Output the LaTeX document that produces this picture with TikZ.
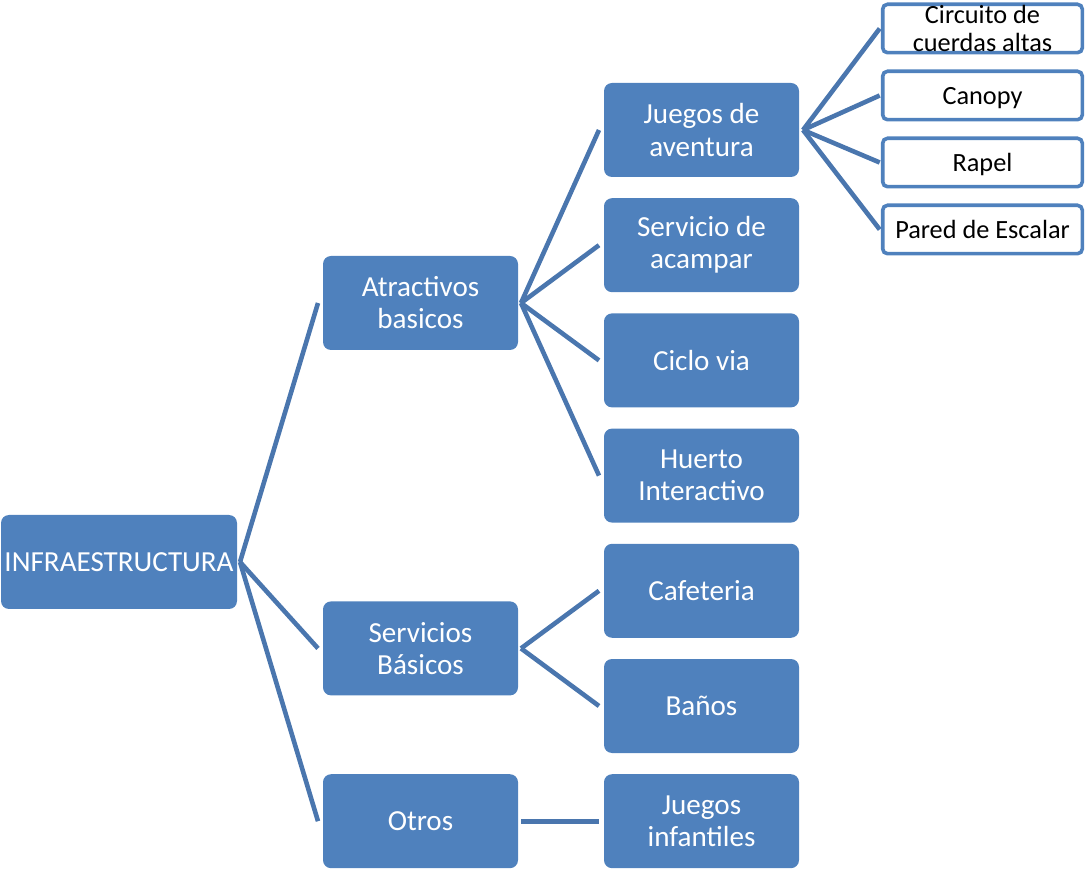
\documentclass[tikz,border=0pt]{standalone}
\usepackage{fontspec}
\setmainfont{Carlito}
\usetikzlibrary{positioning,calc}
\definecolor{boxblue}{HTML}{4F81BD}
\definecolor{linkblue}{HTML}{4A76AE}

\begin{document}
\begin{tikzpicture}[
  node distance=0.53cm,
  every node/.style={font=\fontsize{20.7}{22.8}\selectfont},
  topic/.style={rectangle, fill=boxblue, text=white, rounded corners=0.2cm,
    minimum width=4.875cm, minimum height=2.35cm, align=center, inner sep=0pt,
    outer sep=0pt},
  leaf/.style={rectangle, draw=boxblue, line width=0.09cm, fill=white,
    rounded corners=0.12cm, minimum width=4.99cm, minimum height=1.21cm,
    align=center, inner sep=0pt, font=\fontsize{18.7}{19.8}\selectfont},
  oneline/.style={text height=0.55cm, text depth=0.12cm},
  link/.style={draw=linkblue, line width=0.115cm}
]
  \useasboundingbox (0,0) rectangle (27.15,-21.775);

  % second level
  \node[topic] (aventura) at (17.5375,-3.25) {Juegos de\\aventura};
  \node[topic, below=of aventura] (acampar) {Servicio de\\acampar};
  \node[topic, below=of acampar] (ciclo) {Ciclo via};
  \node[topic, below=of ciclo] (huerto) {Huerto\\Interactivo};
  \node[topic, below=of huerto] (cafe) {Cafeteria};
  \node[topic, below=of cafe] (banos) {Baños};
  \node[topic, below=of banos] (infantil) {Juegos\\infantiles};

  % root and first level
  \node[topic, minimum width=5.9cm] (infra) at (2.975,-14.05) {INFRAESTRUCTURA};
  \node[topic] (atrac) at (10.5125,-7.575) {Atractivos\\basicos};
  \node[topic] (serv) at ($(atrac |- cafe)!0.5!(atrac |- banos)$) {Servicios\\Básicos};
  \node[topic] (otros) at (atrac |- infantil) {Otros};

  % adventure games
  \node[leaf, inner ysep=-5pt] (circuito) at (24.5625,-0.7125) {Circuito de\\cuerdas altas};
  \node[leaf, oneline, below=0.375cm of circuito] (canopy) {Canopy};
  \node[leaf, oneline, below=0.375cm of canopy] (rapel) {Rapel};
  \node[leaf, oneline, below=0.375cm of rapel] (pared) {Pared de Escalar};

  \draw[link] ([xshift=0.075cm]infra.east) -- ([xshift=-0.125cm]atrac.west);
  \draw[link] ([xshift=0.075cm]infra.east) -- ([xshift=-0.125cm]serv.west);
  \draw[link] ([xshift=0.075cm]infra.east) -- ([xshift=-0.125cm]otros.west);

  \draw[link] ([xshift=0.075cm]atrac.east) -- ([xshift=-0.125cm]aventura.west);
  \draw[link] ([xshift=0.075cm]atrac.east) -- ([xshift=-0.125cm]acampar.west);
  \draw[link] ([xshift=0.075cm]atrac.east) -- ([xshift=-0.125cm]ciclo.west);
  \draw[link] ([xshift=0.075cm]atrac.east) -- ([xshift=-0.125cm]huerto.west);

  \draw[link] ([xshift=0.075cm]serv.east) -- ([xshift=-0.125cm]cafe.west);
  \draw[link] ([xshift=0.075cm]serv.east) -- ([xshift=-0.125cm]banos.west);

  \draw[link] ([xshift=0.075cm]otros.east) -- ([xshift=-0.125cm]infantil.west);

  \draw[link] ([xshift=0.1cm]aventura.east) -- ([xshift=-0.03cm]circuito.west);
  \draw[link] ([xshift=0.1cm]aventura.east) -- ([xshift=-0.03cm]canopy.west);
  \draw[link] ([xshift=0.1cm]aventura.east) -- ([xshift=-0.03cm]rapel.west);
  \draw[link] ([xshift=0.1cm]aventura.east) -- ([xshift=-0.03cm]pared.west);
\end{tikzpicture}
\end{document}
